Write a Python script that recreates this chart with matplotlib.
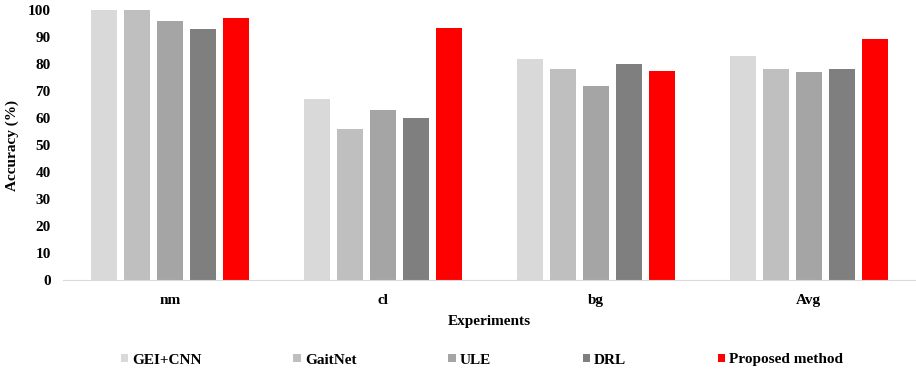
import numpy as np
import matplotlib
matplotlib.use('Agg')
import matplotlib.pyplot as plt

plt.rcParams['font.family'] = ['Liberation Serif', 'DejaVu Serif']
plt.rcParams['font.weight'] = 'bold'

experiments = ['nm', 'cl', 'bg', 'Avg']
methods = ['GEI+CNN', 'GaitNet', 'ULE', 'DRL', 'Proposed method']
gei_cnn = [100, 67, 82, 83]
gaitnet = [100, 56, 78, 78]
ule = [96, 63, 72, 77]
drl = [93, 60, 80, 78]
proposed = [97, 93.5, 77.5, 89.2]
colors = ['#d9d9d9', '#bfbfbf', '#a5a5a5', '#7f7f7f', '#ff0000']

fig = plt.figure(figsize=(9.16, 3.73), dpi=100)
ax = fig.add_axes([0.069, 0.249, 0.93, 0.724])

x = np.arange(len(experiments))
width = 0.122
step = 0.155
series = [gei_cnn, gaitnet, ule, drl, proposed]
for i, vals in enumerate(series):
    ax.bar(x + (i - 2) * step, vals, width, color=colors[i], label=methods[i])

ax.set_xlim(-0.5, 3.5)
ax.set_ylim(0, 100)
ax.set_yticks(range(0, 101, 10))
ax.set_xticks(x)
ax.set_xticklabels(experiments, fontsize=11, fontweight='bold')
ax.tick_params(axis='y', labelsize=11, length=0, pad=9)
ax.tick_params(axis='x', length=0, pad=10)
for s in ['top', 'right', 'left']:
    ax.spines[s].set_visible(False)
ax.spines['bottom'].set_color('#d9d9d9')
ax.set_ylabel('Accuracy (%)', fontsize=11, fontweight='bold', labelpad=6)
ax.set_xlabel('Experiments', fontsize=11, fontweight='bold', labelpad=6)

fig.legend(loc='center', bbox_to_anchor=(482 / 916, 1 - 360 / 373), ncol=5,
           frameon=False, fontsize=11, handlelength=0.5, handleheight=0.5,
           handletextpad=0.25, columnspacing=6.0, borderpad=0, borderaxespad=0)

fig.savefig('out.png', dpi=100)
